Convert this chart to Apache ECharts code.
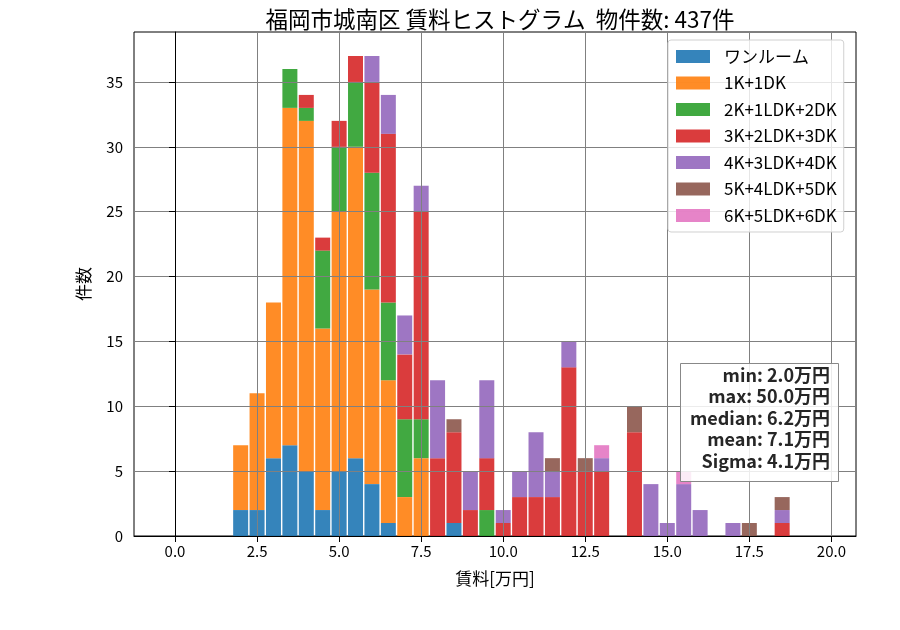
<!DOCTYPE html>
<html>
<head>
<meta charset="utf-8">
<script src="https://cdn.jsdelivr.net/npm/echarts@6/dist/echarts.min.js"></script>
<style>
  html, body { margin: 0; padding: 0; background: #fff; }
  #main { width: 900px; height: 630px; }
</style>
</head>
<body>
<div id="main"></div>
<script>
// every 0.5万円 bin shown on the axis (bar positions)
const axisBins = [-1.0, -0.5, 0.0, 0.5, 1.0, 1.5, 2.0, 2.5, 3.0, 3.5, 4.0, 4.5, 5.0, 5.5, 6.0, 6.5,
  7.0, 7.5, 8.0, 8.5, 9.0, 9.5, 10.0, 10.5, 11.0, 11.5, 12.0, 12.5, 13.0, 13.5, 14.0, 14.5,
  15.0, 15.5, 16.0, 16.5, 17.0, 17.5, 18.0, 18.5, 19.0, 19.5, 20.0, 20.5]
// bins that hold data
const bins = [2.0, 2.5, 3.0, 3.5, 4.0, 4.5, 5.0, 5.5, 6.0, 6.5, 7.0, 7.5, 8.0, 8.5, 9.0, 9.5, 10.0,
  10.5, 11.0, 11.5, 12.0, 12.5, 13.0, 13.5, 14.0, 14.5, 15.0, 15.5, 16.0, 16.5, 17.0, 17.5, 18.0, 18.5]

const names = ['ワンルーム', '1K+1DK', '2K+1LDK+2DK', '3K+2LDK+3DK', '4K+3LDK+4DK', '5K+4LDK+5DK', '6K+5LDK+6DK']
const colors = ['#1f77b4', '#ff7f0e', '#2ca02c', '#d62728', '#9467bd', '#8c564b', '#e377c2']

const oneRoom = [2, 2, 6, 7, 5, 2, 5, 6, 4, 1, 0, 0, 0, 1, 0, 0, 0, 0, 0, 0, 0, 0, 0, 0, 0, 0, 0, 0, 0, 0, 0, 0, 0, 0]
const k1 =      [5, 9, 12, 26, 27, 14, 20, 24, 15, 11, 3, 6, 0, 0, 0, 0, 0, 0, 0, 0, 0, 0, 0, 0, 0, 0, 0, 0, 0, 0, 0, 0, 0, 0]
const k2 =      [0, 0, 0, 3, 1, 6, 5, 5, 9, 6, 6, 3, 0, 0, 0, 2, 0, 0, 0, 0, 0, 0, 0, 0, 0, 0, 0, 0, 0, 0, 0, 0, 0, 0]
const k3 =      [0, 0, 0, 0, 1, 1, 2, 2, 7, 13, 5, 16, 6, 7, 2, 4, 1, 3, 3, 3, 13, 5, 5, 0, 8, 0, 0, 0, 0, 0, 0, 0, 0, 1]
const k4 =      [0, 0, 0, 0, 0, 0, 0, 0, 2, 3, 3, 2, 6, 0, 3, 6, 1, 2, 5, 2, 2, 0, 1, 0, 0, 4, 1, 4, 2, 0, 1, 0, 0, 1]
const k5 =      [0, 0, 0, 0, 0, 0, 0, 0, 0, 0, 0, 0, 0, 1, 0, 0, 0, 0, 0, 1, 0, 1, 0, 0, 2, 0, 0, 0, 0, 0, 0, 1, 0, 1]
const k6 =      [0, 0, 0, 0, 0, 0, 0, 0, 0, 0, 0, 0, 0, 0, 0, 0, 0, 0, 0, 0, 0, 0, 1, 0, 0, 0, 0, 1, 0, 0, 0, 0, 0, 0]
const counts = [oneRoom, k1, k2, k3, k4, k5, k6]

const xTicks = [0, 2.5, 5, 7.5, 10, 12.5, 15, 17.5, 20]
const yTicks = [0, 5, 10, 15, 20, 25, 30, 35]

const statLabels = ['min', 'max', 'median', 'mean', 'Sigma']
const statValues = [2.0, 50.0, 6.2, 7.1, 4.1]

const font = '"Noto Sans CJK JP", "Noto Sans", sans-serif'

let chart = echarts.init(document.getElementById('main'))

let series = names.map((name, i) => {
  return {
    name: name,
    type: 'bar',
    stack: 'total',
    xAxisIndex: 1,
    barWidth: 15,
    itemStyle: {
      color: colors[i],
      opacity: 0.9,
    },
    data: bins.map((b, j) => [b.toFixed(1), counts[i][j] || null]),
  }
})

let statTexts = statLabels.map((l, i) => {
  return {
    type: 'text',
    right: 70,
    top: 366 + i * 21.5,
    z: 101,
    style: {
      text: l + ': ' + statValues[i].toFixed(1) + '万円',
      font: 'bold 18px ' + font,
      fill: '#262626',
    },
  }
})

let options = {
  animation: false,
  textStyle: { fontFamily: font },
  title: {
    text: '福岡市城南区 賃料ヒストグラム  物件数: 437件',
    left: 495,
    textAlign: 'center',
    top: 3,
    textStyle: { fontSize: 22.5, fontWeight: 'normal', color: '#000', fontFamily: font },
  },
  grid: {
    left: 134,
    right: 44,
    top: 32,
    bottom: 94,
    show: true,
    borderColor: '#000',
    borderWidth: 1,
  },
  legend: {
    orient: 'vertical',
    left: 668,
    top: 40,
    z: 20,
    padding: [8, 7, 8, 8],
    itemWidth: 34,
    itemHeight: 13,
    itemGap: 9.5,
    icon: 'rect',
    selectedMode: false,
    backgroundColor: 'rgba(255,255,255,0.8)',
    borderColor: '#d0d0d0',
    borderWidth: 1,
    borderRadius: 3,
    textStyle: { fontSize: 17, color: '#000', fontFamily: font, padding: [0, 0, 0, 9] },
    data: names,
  },
  xAxis: [
    {
      type: 'value',
      min: -1.25,
      max: 20.75,
      z: 5,
      name: '賃料[万円]',
      nameLocation: 'middle',
      nameGap: 34,
      nameTextStyle: { fontSize: 17, color: '#000', fontFamily: font },
      axisLine: { show: true, onZero: false, lineStyle: { color: '#000' } },
      axisTick: { show: true, length: 6, customValues: xTicks, lineStyle: { color: '#000' } },
      axisLabel: {
        customValues: xTicks,
        fontSize: 15,
        color: '#000',
        margin: 8,
        formatter: v => v.toFixed(1),
      },
      splitLine: { show: true, lineStyle: { color: '#808080', width: 1 } },
    },
    {
      type: 'category',
      data: axisBins.map(b => b.toFixed(1)),
      boundaryGap: true,
      show: false,
      splitLine: { show: false },
    },
  ],
  yAxis: {
    type: 'value',
    min: 0,
    max: 38.85,
    z: 5,
    name: '件数',
    nameLocation: 'middle',
    nameGap: 42,
    nameTextStyle: { fontSize: 17, color: '#000', fontFamily: font },
    axisLine: { show: true, lineStyle: { color: '#000' } },
    axisTick: { show: true, length: 6, customValues: yTicks, lineStyle: { color: '#000' } },
    axisLabel: { customValues: yTicks, fontSize: 15, color: '#000', margin: 11 },
    splitLine: { show: true, lineStyle: { color: '#808080', width: 1 } },
  },
  graphic: [
    {
      type: 'rect',
      left: 680,
      top: 363,
      z: 100,
      shape: { width: 158, height: 118 },
      style: { fill: 'rgba(255,255,255,0.85)', stroke: '#888', lineWidth: 1 },
    },
  ].concat(statTexts),
  series: series,
}

chart.setOption(options)
</script>
</body>
</html>
